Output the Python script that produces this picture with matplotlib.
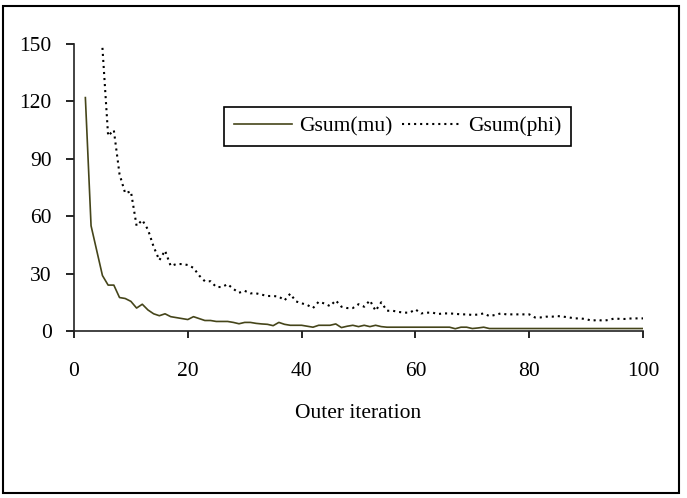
import matplotlib
matplotlib.use('Agg')
import matplotlib.pyplot as plt
from matplotlib.patches import Rectangle

plt.rcParams['font.family'] = ['Liberation Serif', 'DejaVu Serif']

# Gsum(mu): outer iteration 2..100
mu_x = list(range(2, 101))
mu_y = [122, 55, 42, 29, 24, 24, 17.5, 17, 15.5, 12, 14, 11, 9, 8, 9, 7.5, 7, 6.5, 6,
        7.5, 6.5, 5.5, 5.5, 5, 5, 5, 4.5, 3.8, 4.5, 4.5, 4, 3.7, 3.5, 2.8, 4.5, 3.5, 3,
        3, 3, 2.5, 2, 3, 3, 3, 3.7, 1.8, 2.5, 3, 2.3, 3, 2.3, 3, 2.3] \
    + [2] * 12 + [1.2, 2, 2, 1.3, 1.6, 2] + [1.3] * 28

# Gsum(phi): outer iteration 5..100
phi_x = list(range(5, 101))
phi_y = [148, 102, 105, 82, 72, 73, 55, 58, 53, 44, 37, 42, 34, 35, 35, 34.5, 33, 29,
         26, 26, 23, 23, 24.5, 22, 20, 21, 19.7, 19.7, 19, 18.3, 18.3, 18, 16, 19.5,
         15.5, 14.5, 13.6, 12, 15.3, 14.4, 13, 16, 12.7, 12, 12, 14, 12.7, 16, 10.6,
         15, 10.6, 10.6, 10, 9.6, 9.6, 11.3, 9.2, 9.6, 9.6, 8.9, 9.2, 9.2, 9, 8.7, 8.7,
         8.4, 8.6, 9.2, 7.8, 8.4, 9.2, 8.7, 8.7, 8.7, 8.7, 8.7, 7.1, 7.1, 7.5, 7.5, 7.8,
         7.5, 7.1, 6.6, 6.6, 6.2, 5.4, 5.8, 5.4, 5.8, 6.6, 6.3, 6.3, 6.6, 6.6, 6.6]

fig = plt.figure(figsize=(6.87, 4.98), dpi=100)
ax = fig.add_axes([0.1077, 0.3353, 0.8283, 0.5763])

ax.plot(mu_x, mu_y, color='#45451a', lw=1.2, label='Gsum(mu)')
ax.plot(phi_x, phi_y, color='black', lw=1.5, linestyle=(0, (1, 1.9)), label='Gsum(phi)')

ax.set_xlim(0, 100)
ax.set_ylim(0, 150)
ax.set_xticks([0, 20, 40, 60, 80, 100])
ax.set_yticks([0, 30, 60, 90, 120, 150])
ax.spines['top'].set_visible(False)
ax.spines['right'].set_visible(False)
for s in ['left', 'bottom']:
    ax.spines[s].set_linewidth(1.2)
    ax.spines[s].set_color('#222222')
ax.tick_params(axis='x', direction='out', length=5, width=1.2, pad=17, labelsize=15.5)
ax.tick_params(axis='y', direction='out', length=6, width=1.2, pad=10, labelsize=15.5)
ax.set_xlabel('Outer iteration', fontsize=15.5, labelpad=17)

leg = ax.legend(loc='upper left', bbox_to_anchor=(0.2636, 0.7815), ncol=2, fontsize=15.5,
                fancybox=False, edgecolor='black', framealpha=1, handlelength=2.7,
                columnspacing=0.45, handletextpad=0.35, borderpad=0.45,
                borderaxespad=0)
leg.get_frame().set_linewidth(1.2)

# border round the whole chart
fig.patches.append(Rectangle((0.004, 0.01), 0.984, 0.978, transform=fig.transFigure,
                             fill=False, edgecolor='black', lw=1.5))

fig.savefig('out.png', dpi=100)
